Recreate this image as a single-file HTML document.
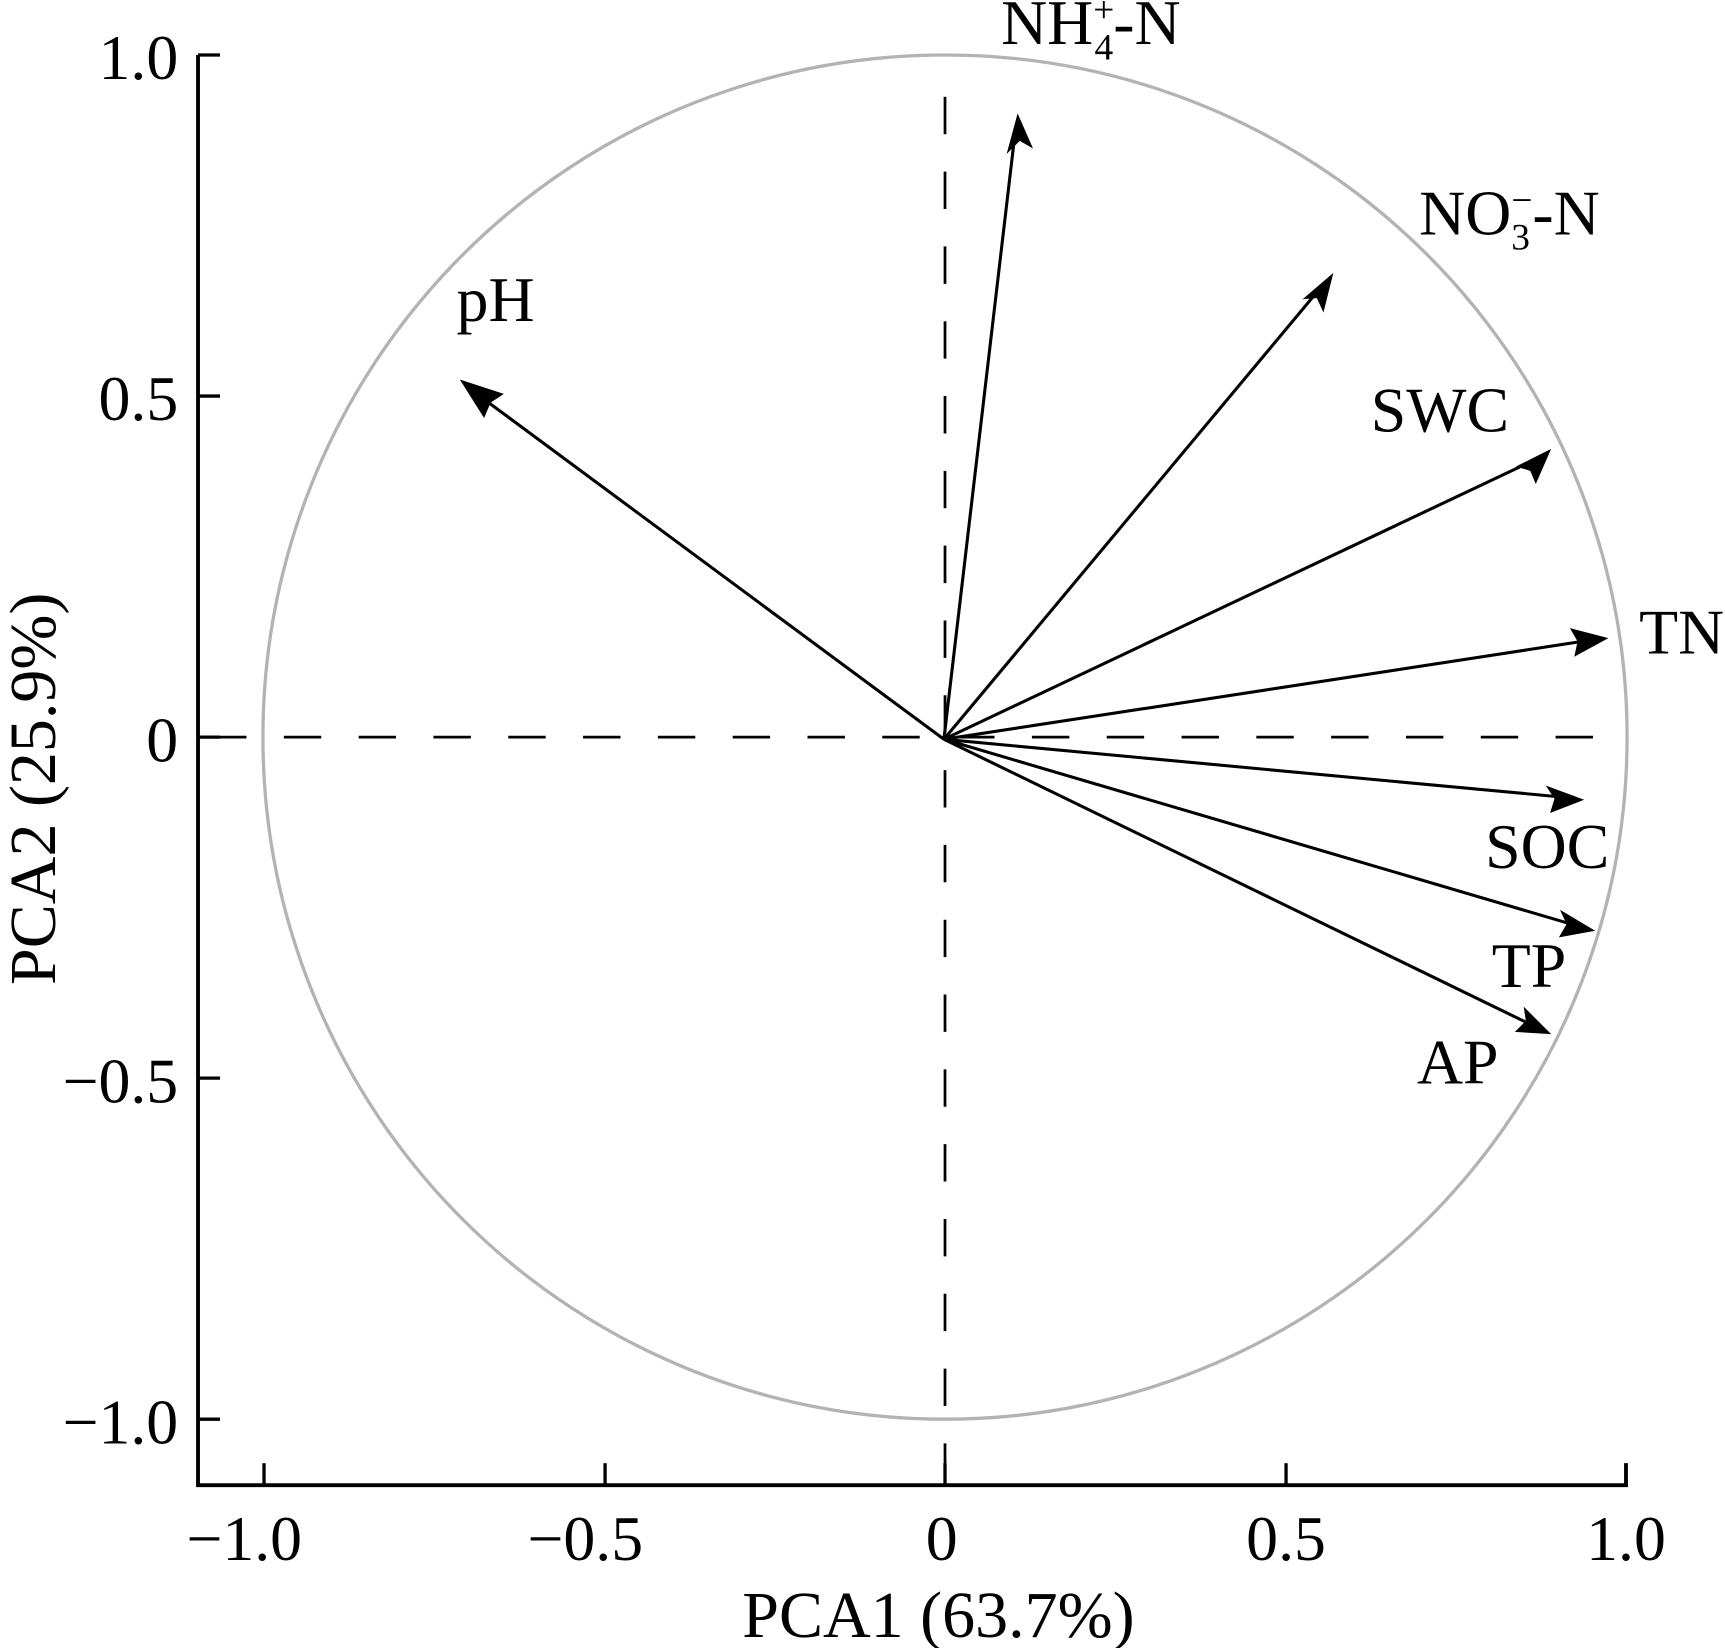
<!DOCTYPE html>
<html><head><meta charset="utf-8"><style>
html,body{margin:0;padding:0;background:#fff;}
svg{display:block;}
text{font-family:"Liberation Serif",serif;fill:#000;}
</style></head><body>
<svg width="1725" height="1648" viewBox="0 0 1568 1498" preserveAspectRatio="none" xmlns="http://www.w3.org/2000/svg">
<circle cx="859" cy="670" r="620" fill="none" stroke="#b3b3b3" stroke-width="3"/>
<line x1="180" y1="670" x2="1478" y2="670" stroke="#000" stroke-width="2.5" stroke-dasharray="34,34" stroke-dashoffset="-10"/>
<line x1="859" y1="88" x2="859" y2="1350" stroke="#000" stroke-width="2.5" stroke-dasharray="34,34"/>
<path d="M180 50 V1350 H1478 V1330" fill="none" stroke="#000" stroke-width="3.5"/>
<g stroke="#000" stroke-width="3">
<line x1="180" y1="50" x2="200" y2="50"/>
<line x1="180" y1="360" x2="200" y2="360"/>
<line x1="180" y1="670" x2="200" y2="670"/>
<line x1="180" y1="980" x2="200" y2="980"/>
<line x1="180" y1="1290" x2="200" y2="1290"/>
<line x1="240" y1="1350" x2="240" y2="1330"/>
<line x1="550" y1="1350" x2="550" y2="1330"/>
<line x1="859" y1="1350" x2="859" y2="1330"/>
<line x1="1169" y1="1350" x2="1169" y2="1330"/>
</g>
<g font-size="58" text-anchor="end">
<text x="162" y="72">1.0</text>
<text x="162" y="382">0.5</text>
<text x="162" y="692">0</text>
<text x="162" y="1002">−0.5</text>
<text x="162" y="1312">−1.0</text>
</g>
<g font-size="58" text-anchor="middle">
<text x="222" y="1418">−1.0</text>
<text x="532" y="1418">−0.5</text>
<text x="856" y="1418">0</text>
<text x="1169" y="1418">0.5</text>
<text x="1478" y="1418">1.0</text>
<text x="853" y="1488" font-size="60">PCA1 (63.7%)</text>
<text transform="translate(50,717) rotate(-90)" font-size="60">PCA2 (25.9%)</text>
</g>
<g stroke="#000" stroke-width="2.8">
<line x1="858" y1="672" x2="432" y2="357"/>
<line x1="858" y1="672" x2="923" y2="118"/>
<line x1="858" y1="672" x2="1200" y2="262"/>
<line x1="858" y1="672" x2="1395" y2="418"/>
<line x1="858" y1="672" x2="1445" y2="582"/>
<line x1="858" y1="672" x2="1425" y2="725"/>
<line x1="858" y1="672" x2="1435" y2="842"/>
<line x1="858" y1="672" x2="1395" y2="933"/>
</g>
<g fill="#000">
<polygon points="418,345 458,358 446,366 440,380"/>
<polygon points="925,103 939,135 927,128 915,140"/>
<polygon points="1212,248 1203,284 1197,271 1184,272"/>
<polygon points="1410,408 1396,440 1391,428 1378,424"/>
<polygon points="1462,580 1431,597 1434,583 1427,571"/>
<polygon points="1440,727 1409,739 1413,726 1405,714"/>
<polygon points="1450,846 1417,852 1424,840 1418,827"/>
<polygon points="1410,940 1377,938 1387,928 1385,915"/>
</g>
<g font-size="58">
<text x="415" y="292">pH</text>
<text x="910" y="40">NH<tspan font-size="34" dy="-20">+</tspan><tspan font-size="34" dx="-18" dy="34">4</tspan><tspan dy="-14">-N</tspan></text>
<text x="1290" y="213">NO<tspan font-size="34" dy="14">3</tspan><tspan font-size="34" dx="-17" dy="-34">−</tspan><tspan dy="20">-N</tspan></text>
<text x="1246" y="392">SWC</text>
<text x="1490" y="594">TN</text>
<text x="1350" y="789">SOC</text>
<text x="1356" y="897">TP</text>
<text x="1288" y="985">AP</text>
</g>
</svg>
</body></html>
